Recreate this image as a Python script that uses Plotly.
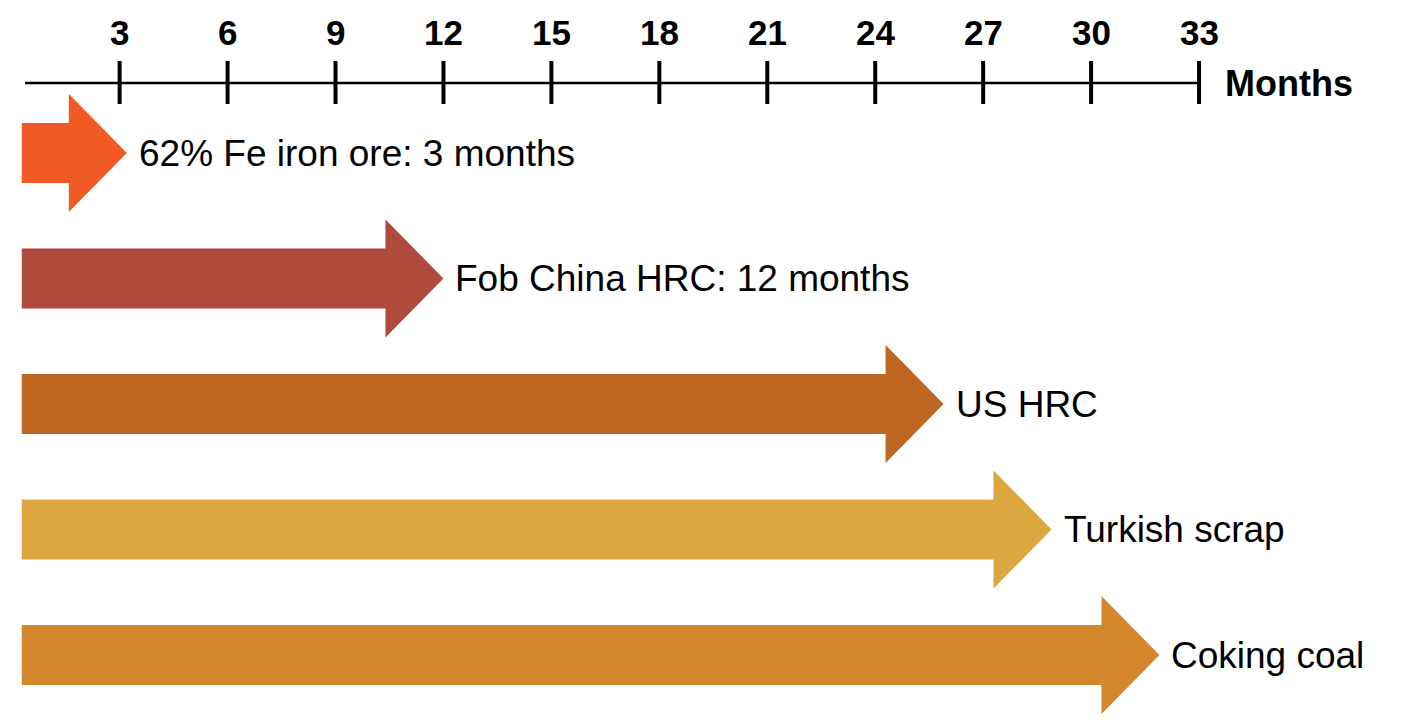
import plotly.graph_objects as go

# ---- data ----
tick_months = [3, 6, 9, 12, 15, 18, 21, 24, 27, 30, 33]
tick_labels = ["3", "6", "9", "12", "15", "18", "21", "24", "27", "30", "33"]
items = ["62% Fe iron ore: 3 months", "Fob China HRC: 12 months", "US HRC",
         "Turkish scrap", "Coking coal"]
lag_months = [3.2, 12.0, 25.9, 28.9, 31.9]
colors = ["#F25A24", "#B04A3D", "#BF6622", "#DCA741", "#D5872E"]
axis_label = "Months"

# ---- layout constants ----
W, H = 1410, 723
OFF = 8  # page body margin
PX_PER_MONTH = 35.98
X0_PX = 11.7 - OFF
x_range = [-X0_PX / PX_PER_MONTH, (W - X0_PX) / PX_PER_MONTH]
start_month = 0.28
axis_start = 0.37
axis_y = 83
row0_y = 153
row_gap = 125.5
shaft_half = 30
head_half = 59
head_len = 58 / PX_PER_MONTH
FONT = "Liberation Sans, Arial"

fig = go.Figure()

# timeline axis line
fig.add_trace(go.Scatter(x=[axis_start, tick_months[-1]], y=[axis_y, axis_y], mode="lines",
                         line=dict(color="black", width=2.5), hoverinfo="skip", showlegend=False))
# ticks
tx, ty = [], []
for m in tick_months:
    tx += [m, m, None]
    ty += [axis_y - 22, axis_y + 21, None]
fig.add_trace(go.Scatter(x=tx, y=ty, mode="lines", line=dict(color="black", width=4),
                         hoverinfo="skip", showlegend=False))
for m, lab in zip(tick_months, tick_labels):
    fig.add_annotation(x=m, y=32, xref="x", yref="y", text=f"<b>{lab}</b>", showarrow=False,
                       xanchor="center", yanchor="middle",
                       font=dict(family=FONT, size=35, color="black"))
fig.add_annotation(x=tick_months[-1], y=axis_y, xref="x", yref="y", text=f"<b>{axis_label}</b>",
                   showarrow=False, xanchor="left", yanchor="middle", xshift=24,
                   font=dict(family=FONT, size=36, color="black"))

# arrows
for i, (name, lag, col) in enumerate(zip(items, lag_months, colors)):
    cy = row0_y + i * row_gap
    hb = lag - head_len
    xs = [start_month, hb, hb, lag, hb, hb, start_month, start_month]
    ys = [cy - shaft_half, cy - shaft_half, cy - head_half, cy, cy + head_half,
          cy + shaft_half, cy + shaft_half, cy - shaft_half]
    fig.add_trace(go.Scatter(x=xs, y=ys, mode="lines", fill="toself", fillcolor=col,
                             line=dict(color=col, width=0), hoverinfo="skip", showlegend=False))
    fig.add_annotation(x=lag, y=cy, xref="x", yref="y", text=name, showarrow=False,
                       xanchor="left", yanchor="middle", xshift=10,
                       font=dict(family=FONT, size=37, color="black"))

fig.update_xaxes(range=x_range, visible=False, fixedrange=True)
fig.update_yaxes(range=[H + OFF, OFF], visible=False, fixedrange=True)
fig.update_layout(width=W, height=H, margin=dict(l=0, r=0, t=0, b=0),
                  paper_bgcolor="white", plot_bgcolor="white", showlegend=False)

fig.write_html("out.html", config={"displayModeBar": False})
